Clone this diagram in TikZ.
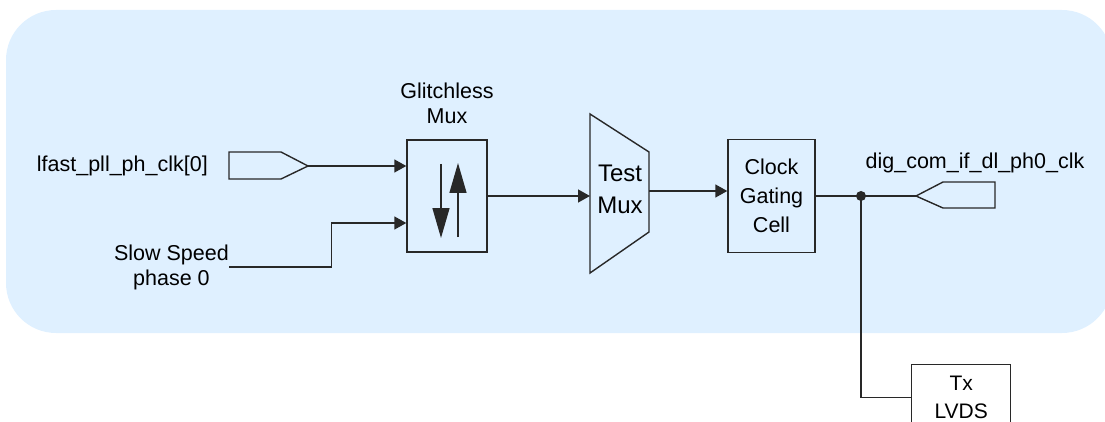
\documentclass[tikz,border=0pt]{standalone}
\usepackage{fontspec}
\setmainfont{Liberation Sans}
\usetikzlibrary{arrows.meta, calc}

\definecolor{zonebg}{RGB}{223,240,255}
\definecolor{wire}{RGB}{40,40,40}

\begin{document}
\begin{tikzpicture}[x=1pt, y=-1pt,
    every node/.style={font=\fontsize{21.5}{25}\selectfont, inner sep=0pt, text=black},
    blockbox/.style ={draw=wire, line width=1.4pt, fill=zonebg, align=center},
    wireline/.style ={draw=wire, line width=1.4pt},
    sigarrow/.style ={wireline, -{Triangle[length=12pt, width=13pt]}},
    swarrow/.style  ={wireline, -{Triangle[length=30pt, width=17pt]}},
    pinshape/.style ={wireline, fill=zonebg}
]
\useasboundingbox (0,0) rectangle (1105,422);

% ---------- shared clock zone ----------
\fill[zonebg, rounded corners=50pt] (6,10) rectangle (1112,333);

% ---------- inputs ----------
\coordinate (fastTip) at (308,166);
\draw[pinshape] (fastTip) -- ++(-27,-14) -- ++(-52,0) -- ++(0,27) -- ++(52,0) -- cycle;
\node[anchor=east] (fastlbl) at (208,166) {lfast\_pll\_ph\_clk[0]};
\node[anchor=east, align=center] (slowlbl) at (229,267) {Slow Speed\\phase 0};

% ---------- glitchless mux ----------
\node[blockbox, minimum width=80pt, minimum height=112pt] (glitch) at (447,196) {};
\node[align=center, anchor=south] (glitchlbl) at ($(glitch.north)+(0,-15)$) {Glitchless\\Mux};
\draw[swarrow] ($(glitch.center)+(-6,-32)$) -- ($(glitch.center)+(-6,42)$);
\draw[swarrow] ($(glitch.center)+(11,41)$) -- ($(glitch.center)+(11,-33)$);

\coordinate (slowIn) at ($(glitch.west)+(0,27)$);
\draw[sigarrow] (fastTip) -- (fastTip -| glitch.west);
\draw[sigarrow] (slowlbl.east) -| ($(slowIn)+(-75,0)$) -- (slowIn);

% ---------- test mux ----------
\coordinate (tmTL) at (590,114);
\coordinate (tmTR) at (649,152);
\coordinate (tmBR) at (649,232);
\coordinate (tmBL) at (590,273);
\draw[pinshape] (tmTL) -- (tmTR) -- (tmBR) -- (tmBL) -- cycle;
\node[font=\fontsize{24}{32}\selectfont, align=center] (tmlbl) at (620,189) {Test\\Mux};
\draw[sigarrow] (glitch.east) -- (glitch.east -| tmTL);

% ---------- clock gating cell ----------
\node[blockbox, minimum width=87pt, minimum height=113pt,
      font=\fontsize{21.5}{29}\selectfont] (cgc) at (771.5,196) {Clock\\Gating\\Cell};
\coordinate (tmOut) at (649,191);
\draw[sigarrow] (tmOut) -- (tmOut -| cgc.west);

% ---------- output and tap ----------
\coordinate (junc) at (861,196);
\coordinate (outTip) at (916,196);
\draw[wireline] (cgc.east) -- (junc) -- (outTip);
\fill[wire] (junc) circle (5pt);
\draw[pinshape] (outTip) -- ++(27,-14) -- ++(52,0) -- ++(0,26) -- ++(-52,0) -- cycle;
\node (diglbl) at (975,163) {dig\_com\_if\_dl\_ph0\_clk};

\node[blockbox, fill=white, minimum width=99pt, minimum height=66pt, anchor=north west,
      font=\fontsize{21}{28}\selectfont] (txlvds) at (911,364) {Tx\\LVDS};
\draw[wireline] (junc) |- (txlvds.west);

\end{tikzpicture}
\end{document}
